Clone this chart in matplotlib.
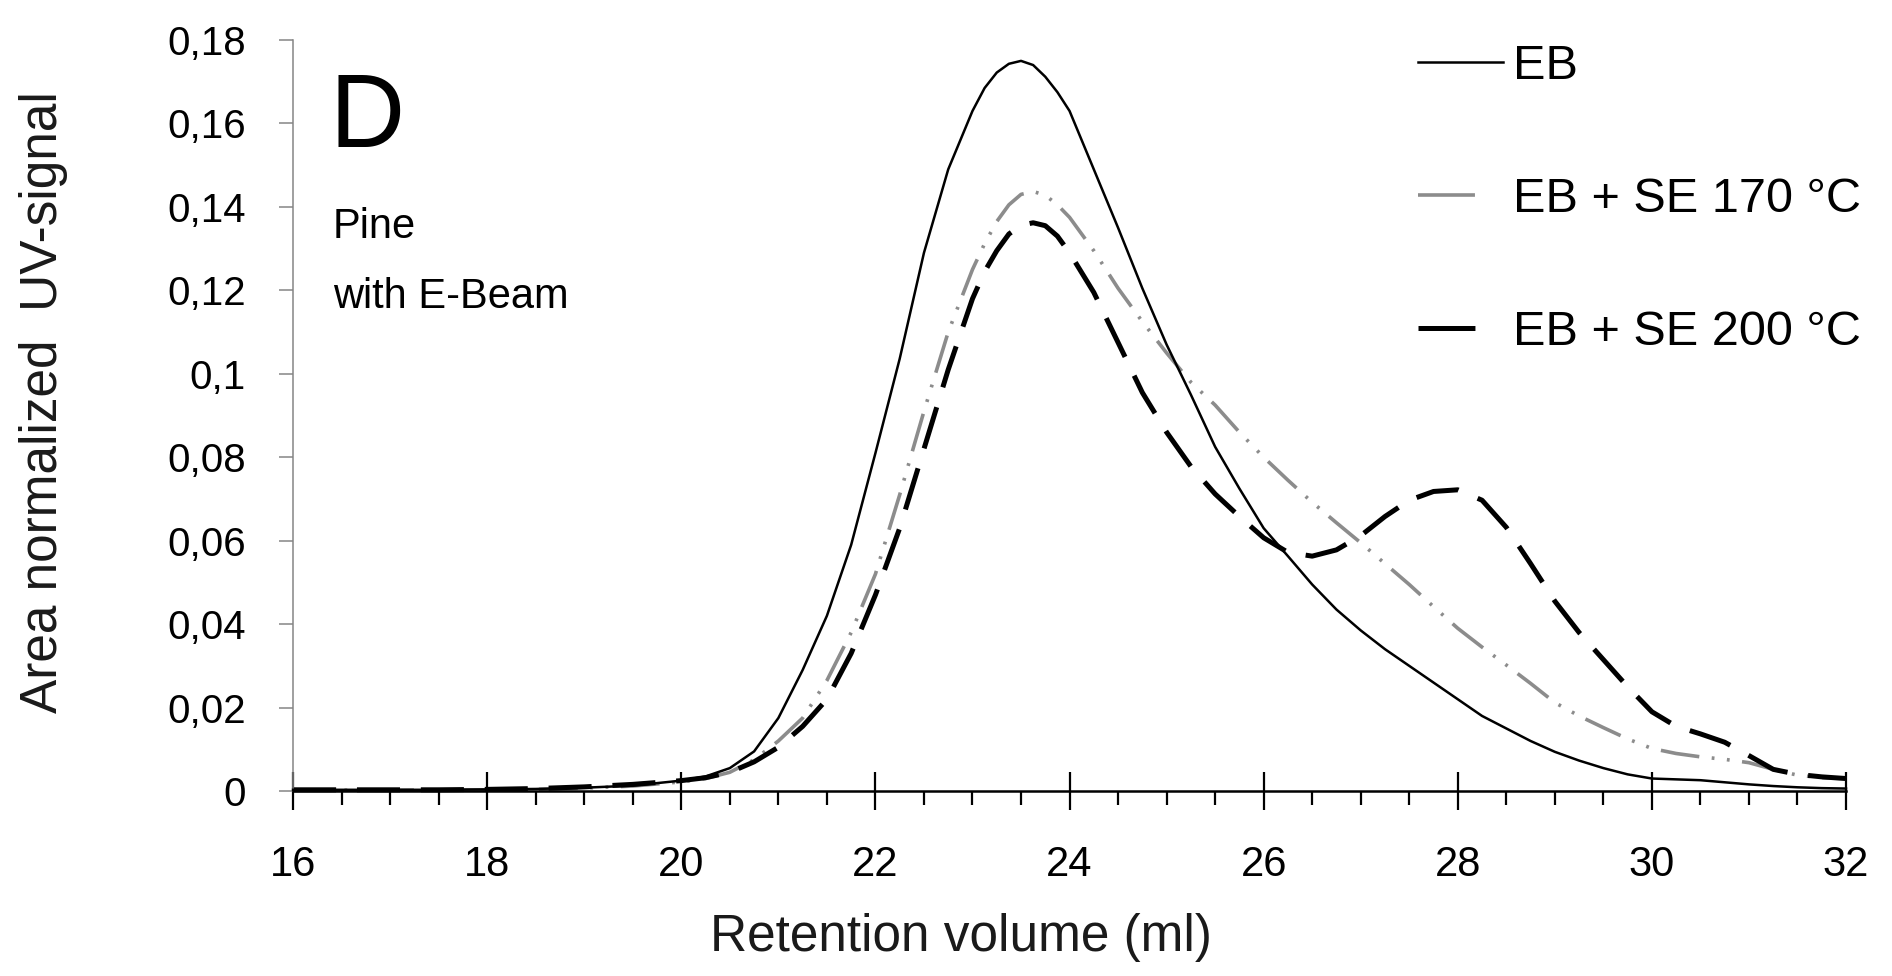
import matplotlib
matplotlib.use("Agg")
import matplotlib.pyplot as plt
from matplotlib.ticker import MultipleLocator, FuncFormatter
from matplotlib.lines import Line2D
import numpy as np

plt.rcParams['font.family'] = ['Liberation Sans', 'DejaVu Sans']
plt.rcParams['lines.scale_dashes'] = False

# retention volume (ml) grid
vol = [16.0, 16.5, 17.0, 17.5, 18.0, 18.5, 19.0, 19.5, 20.0, 20.25, 20.5, 20.75,
       21.0, 21.25, 21.5, 21.75, 22.0, 22.25, 22.5, 22.75, 23.0, 23.125, 23.25, 23.375,
       23.5, 23.625, 23.75, 23.875, 24.0, 24.25, 24.5, 24.75, 25.0, 25.25, 25.5, 25.75,
       26.0, 26.25, 26.5, 26.75, 27.0, 27.25, 27.5, 27.75, 28.0, 28.25, 28.5, 28.75,
       29.0, 29.25, 29.5, 29.75, 30.0, 30.25, 30.5, 30.75, 31.0, 31.25, 31.5, 31.75, 32.0]

eb = [0.0003, 0.0003, 0.0003, 0.0003, 0.0004, 0.0005, 0.0008, 0.0013, 0.0025, 0.0035, 0.0055, 0.0095,
      0.0175, 0.029, 0.042, 0.059, 0.081, 0.1036, 0.129, 0.149, 0.1630, 0.1685, 0.1722, 0.1743,
      0.1750, 0.1740, 0.1712, 0.1675, 0.163, 0.149, 0.135, 0.1205, 0.107, 0.095, 0.0825, 0.0725,
      0.063, 0.0563, 0.0495, 0.0435, 0.0385, 0.034, 0.030, 0.026, 0.022, 0.018, 0.015, 0.012,
      0.0094, 0.0073, 0.0055, 0.0040, 0.0030, 0.0028, 0.0026, 0.0021, 0.0016, 0.0012, 0.0009, 0.0007, 0.0006]

eb_se170 = [0.0002, 0.0002, 0.0002, 0.0003, 0.0003, 0.0004, 0.0007, 0.0012, 0.0022, 0.003, 0.0045, 0.0075,
            0.012, 0.0175, 0.0265, 0.038, 0.052, 0.071, 0.091, 0.110, 0.125, 0.1312, 0.1365, 0.1405,
            0.1430, 0.1437, 0.1428, 0.1405, 0.1375, 0.1295, 0.1205, 0.1125, 0.105, 0.098, 0.0925, 0.086,
            0.080, 0.0745, 0.0692, 0.0643, 0.0595, 0.0545, 0.0495, 0.0442, 0.0390, 0.0345, 0.0302, 0.0258,
            0.0212, 0.0180, 0.0152, 0.0125, 0.0102, 0.0090, 0.0082, 0.0076, 0.0068, 0.0052, 0.0038, 0.0032, 0.003]

eb_se200 = [0.0003, 0.0003, 0.0003, 0.0003, 0.0004, 0.0006, 0.0010, 0.0016, 0.0025, 0.0032, 0.0045, 0.007,
            0.0105, 0.0155, 0.022, 0.033, 0.047, 0.063, 0.082, 0.101, 0.118, 0.1245, 0.1295, 0.1335,
            0.1356, 0.1362, 0.1355, 0.1330, 0.129, 0.1195, 0.1075, 0.0955, 0.086, 0.0778, 0.0712, 0.0658,
            0.0607, 0.0572, 0.0563, 0.0578, 0.0612, 0.0658, 0.0697, 0.0718, 0.0722, 0.0697, 0.0632, 0.0545,
            0.0455, 0.0380, 0.0315, 0.0250, 0.0190, 0.0155, 0.0137, 0.0117, 0.0085, 0.0052, 0.0040, 0.0034, 0.003]

labels = ['EB', 'EB + SE 170 °C', 'EB + SE 200 °C']

fig = plt.figure(figsize=(18.92, 9.76), dpi=100)
ax = fig.add_axes([0.1549, 0.1895, 0.8208, 0.7695])

ax.plot(vol, eb, color='black', lw=1.8, clip_on=False, zorder=3)
ax.plot(vol, eb_se170, color='#8c8c8c', lw=2.6, dashes=[28, 9, 2, 9, 2, 9],
        dash_capstyle='butt', clip_on=False, zorder=2)
ax.plot(vol, eb_se200, color='black', lw=3.6, dashes=[31, 15],
        dash_capstyle='butt', clip_on=False, zorder=2)

ax.set_xlim(16, 32)
ax.set_ylim(0, 0.18)

for s in ['top', 'right']:
  ax.spines[s].set_visible(False)
ax.spines['bottom'].set_linewidth(1.8)
ax.spines['bottom'].set_color('black')
ax.spines['left'].set_linewidth(1.1)
ax.spines['left'].set_color('#858585')

ax.xaxis.set_major_locator(MultipleLocator(2))
ax.xaxis.set_minor_locator(MultipleLocator(0.5))
ax.yaxis.set_major_locator(MultipleLocator(0.02))

ax.tick_params(axis='x', which='major', direction='inout', length=27, width=1.6,
               color='black', labelsize=30, pad=25)
ax.tick_params(axis='x', which='minor', direction='out', length=10, width=1.6, color='black')
ax.tick_params(axis='y', which='major', direction='out', length=10, width=1.1,
               color='#858585', labelsize=29, pad=24)

ax.yaxis.set_major_formatter(FuncFormatter(lambda v, p: f"{round(v, 2):g}".replace('.', ',')))

ax.set_xlabel('Retention volume (ml)', fontsize=37, color='#1a1a1a')
ax.xaxis.set_label_coords(0.43, -0.1625)
ax.set_ylabel('Area normalized  UV-signal', fontsize=37, color='#1a1a1a')
ax.yaxis.set_label_coords(-0.145, 0.518)

fig.text(0.174, 0.849, 'D', fontsize=75, va='baseline', ha='left')
fig.text(0.176, 0.756, 'Pine', fontsize=30, va='baseline', ha='left')
fig.text(0.176, 0.684, 'with E-Beam', fontsize=30, va='baseline', ha='left')

# legend samples like the original: one plain stroke each
handles = [Line2D([], [], color='black', lw=1.8),
           Line2D([], [], color='#8c8c8c', lw=2.6, dashes=[41, 80], dash_capstyle='butt'),
           Line2D([], [], color='black', lw=3.6, dashes=[41, 80], dash_capstyle='butt')]
ax.legend(handles, labels, loc='upper left', bbox_to_anchor=(1418/1892, 0.955),
          bbox_transform=fig.transFigure, frameon=False, fontsize=35, handlelength=1.75,
          handletextpad=0.2, labelspacing=1.81, borderaxespad=0, borderpad=0)

fig.savefig('out.png', dpi=100)
